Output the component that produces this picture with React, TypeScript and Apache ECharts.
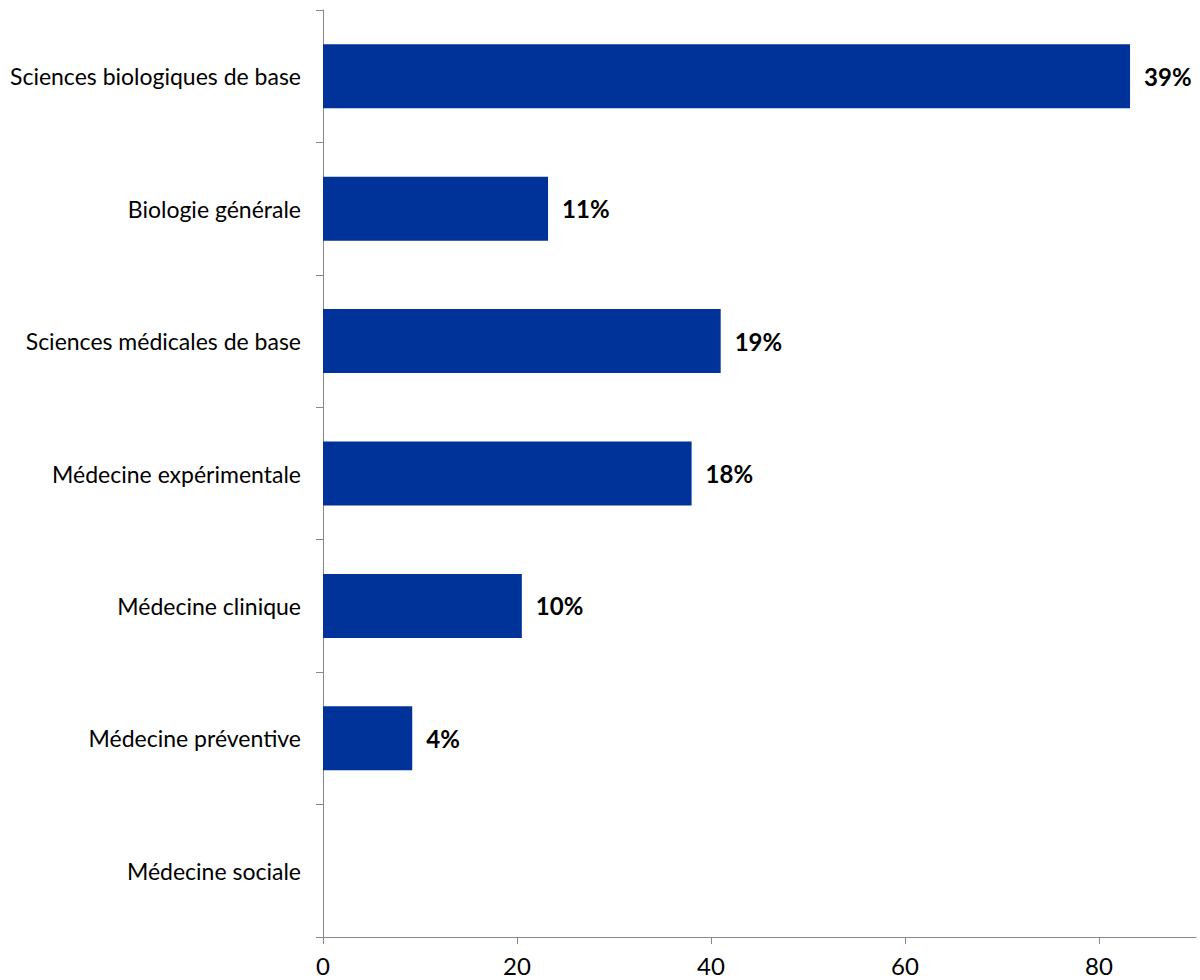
import React, { useEffect, useRef } from "react";
import * as echarts from "echarts";

const categories = [
  "Sciences biologiques de base",
  "Biologie générale",
  "Sciences médicales de base",
  "Médecine expérimentale",
  "Médecine clinique",
  "Médecine préventive",
  "Médecine sociale",
];
const values = [83.2, 23.2, 41.0, 38.0, 20.5, 9.2, 0];
const percentLabels = ["39%", "11%", "19%", "18%", "10%", "4%", ""];
const xTicks = { min: 0, max: 90, interval: 20 };

export default function App() {
  const ref = useRef<HTMLDivElement>(null);
  useEffect(() => {
    if (!ref.current) return;
    const chart = echarts.init(ref.current, null, { renderer: "svg" });
    const axisColor = "#888888";
    chart.setOption({
      animation: false,
      textStyle: { fontFamily: "Lato" },
      grid: { left: 323, right: 4, top: 10, bottom: 43, containLabel: false },
      xAxis: {
        type: "value",
        min: xTicks.min,
        max: xTicks.max,
        interval: xTicks.interval,
        axisLine: { show: true, lineStyle: { color: axisColor, width: 1 } },
        axisTick: { show: true, length: 7, lineStyle: { color: axisColor } },
        splitLine: { show: false },
        axisLabel: {
          color: "#000",
          fontSize: 24,
          lineHeight: 24,
          fontFamily: "Lato",
          margin: 16,
          showMaxLabel: false,
        },
      },
      yAxis: {
        type: "category",
        data: categories,
        inverse: true,
        axisLine: { show: true, lineStyle: { color: axisColor, width: 1 } },
        axisTick: { show: true, length: 7, alignWithLabel: false, lineStyle: { color: axisColor } },
        axisLabel: {
          color: "#000",
          fontSize: 23,
          fontFamily: "Lato",
          margin: 22,
        },
      },
      series: [
        {
          type: "bar",
          data: values,
          barWidth: 64,
          itemStyle: { color: "#003399" },
          label: {
            show: true,
            position: "right",
            distance: 14,
            color: "#000",
            fontSize: 24,
            fontWeight: "bold",
            fontFamily: "Lato",
            formatter: (p: any) => percentLabels[p.dataIndex],
          },
        },
      ],
    });
    return () => chart.dispose();
  }, []);
  return (
    <div
      ref={ref}
      style={{ position: "absolute", left: 0, top: 0, width: 1200, height: 980 }}
    />
  );
}
